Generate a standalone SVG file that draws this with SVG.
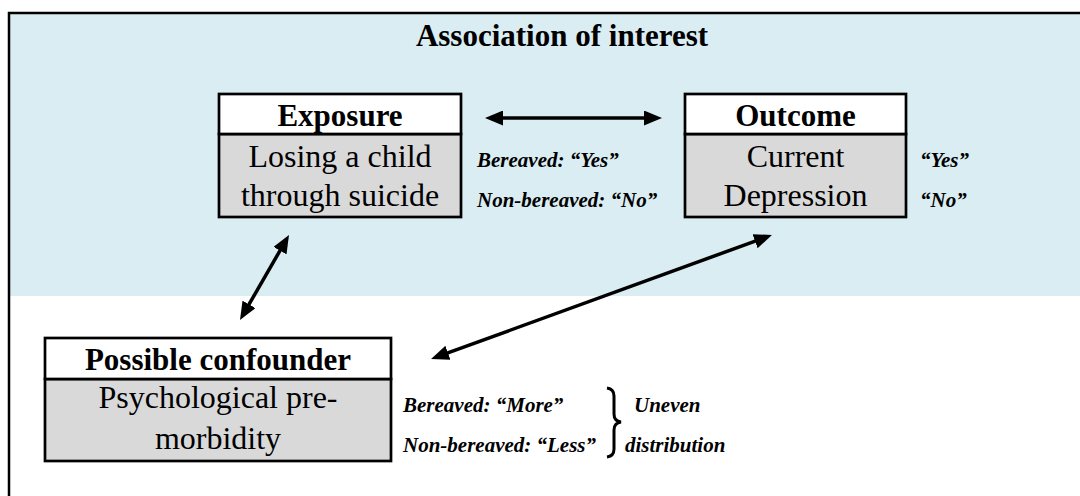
<svg xmlns="http://www.w3.org/2000/svg" width="1080" height="496" viewBox="0 0 1080 496">
  <style>
    .frame { stroke: #000; stroke-width: 2.5; fill: none; }
    .band { fill: #DAEDF3; }
    .head { fill: #FFFFFF; stroke: #000; stroke-width: 2.7; }
    .body { fill: #D9D9D9; stroke: #000; stroke-width: 2.7; }
    .title { font-family: "Liberation Serif", "Times New Roman", serif; font-weight: bold; font-size: 31px; fill: #000; text-anchor: middle; }
    .hdr { font-family: "Liberation Serif", "Times New Roman", serif; font-weight: bold; font-size: 31px; fill: #000; text-anchor: middle; }
    .txt { font-family: "Liberation Serif", "Times New Roman", serif; font-size: 32px; fill: #000; text-anchor: middle; }
    .lbl { font-family: "Liberation Serif", "Times New Roman", serif; font-weight: bold; font-style: italic; font-size: 21px; fill: #000; }
    .conn { stroke: #000; stroke-width: 3.5; fill: none; }
    .brace { stroke: #000; stroke-width: 3; fill: none; }
  </style>
  <defs>
    <marker id="tip" markerUnits="userSpaceOnUse" markerWidth="18" markerHeight="15" refX="9" refY="7.5" orient="auto-start-reverse">
      <path d="M0,0 L18,7.5 L0,15 Z" fill="#000"/>
    </marker>
  </defs>

  <!-- background and shaded region -->
  <rect x="0" y="0" width="1080" height="496" fill="#FFFFFF"/>
  <rect class="band" x="9" y="13" width="1071" height="283"/>
  <path class="frame" d="M9,496 L9,13 L1080,13"/>

  <text class="title" x="562" y="46">Association of interest</text>

  <!-- Exposure -->
  <g id="exposure">
    <rect class="body" x="219" y="134" width="242" height="83"/>
    <rect class="head" x="219" y="94" width="242" height="40"/>
    <text class="hdr" x="340" y="126">Exposure</text>
    <text class="txt" x="340" y="167">Losing a child</text>
    <text class="txt" x="340" y="206">through suicide</text>
  </g>

  <g id="exposure-labels">
    <text class="lbl" x="477" y="167">Bereaved: “Yes”</text>
    <text class="lbl" x="477" y="207">Non-bereaved: “No”</text>
  </g>

  <!-- Outcome -->
  <g id="outcome">
    <rect class="body" x="685" y="134" width="221" height="83"/>
    <rect class="head" x="685" y="94" width="221" height="40"/>
    <text class="hdr" x="795.5" y="126">Outcome</text>
    <text class="txt" x="795.5" y="167">Current</text>
    <text class="txt" x="795.5" y="206">Depression</text>
  </g>

  <g id="outcome-labels">
    <text class="lbl" x="920" y="167">“Yes”</text>
    <text class="lbl" x="920" y="207">“No”</text>
  </g>

  <!-- Possible confounder -->
  <g id="confounder">
    <rect class="body" x="45" y="379" width="346" height="82"/>
    <rect class="head" x="45" y="338" width="346" height="41"/>
    <text class="hdr" x="218" y="370">Possible confounder</text>
    <text class="txt" x="218" y="408">Psychological pre-</text>
    <text class="txt" x="218" y="449">morbidity</text>
  </g>

  <g id="confounder-labels">
    <text class="lbl" x="403" y="412">Bereaved: “More”</text>
    <text class="lbl" x="403" y="452">Non-bereaved: “Less”</text>
    <path class="brace" d="M607,388 Q614,389 614,396 L614,414 Q614,421 621,422 Q614,423 614,430 L614,449 Q614,456 607,457"/>
    <text class="lbl" x="634" y="412">Uneven</text>
    <text class="lbl" x="625" y="452">distribution</text>
  </g>

  <!-- connectors -->
  <g id="connectors">
    <line class="conn" x1="494" y1="118" x2="653" y2="118" marker-start="url(#tip)" marker-end="url(#tip)"/>
    <line class="conn" x1="244.5" y1="312.2" x2="284.5" y2="242.8" marker-start="url(#tip)" marker-end="url(#tip)"/>
    <line class="conn" x1="439.5" y1="355.9" x2="763.5" y2="238.1" marker-start="url(#tip)" marker-end="url(#tip)"/>
  </g>
</svg>
